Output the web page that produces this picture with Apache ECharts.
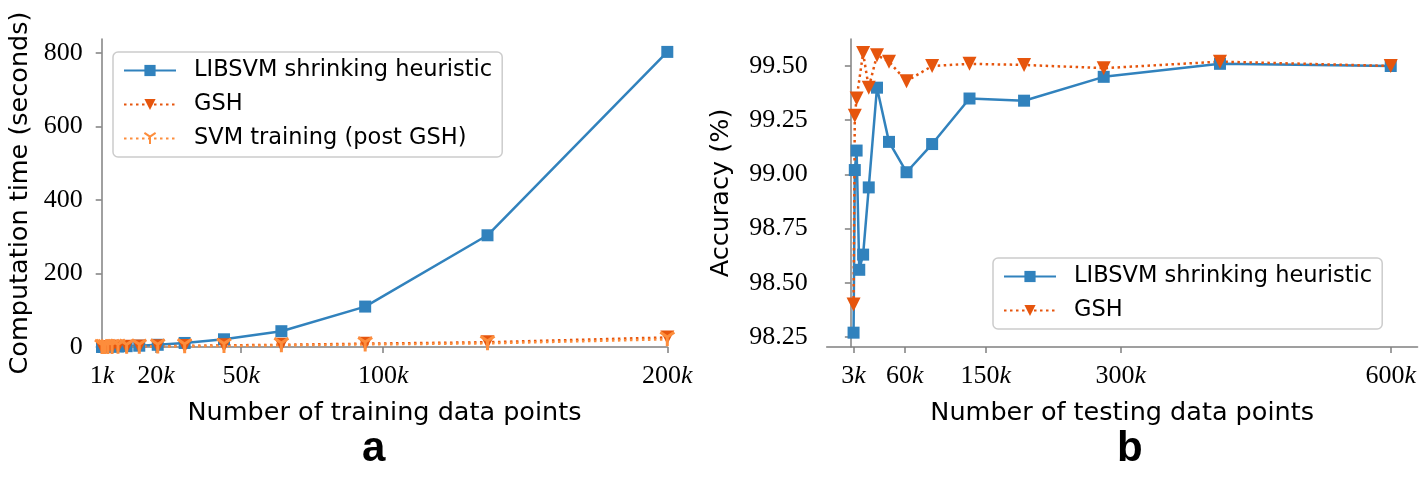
<!DOCTYPE html>
<html><head><meta charset="utf-8">
<script src="https://cdn.jsdelivr.net/npm/echarts@6/dist/echarts.min.js"></script>
<style>html,body{margin:0;padding:0;background:#fff}#c{width:1419px;height:478px}</style>
</head><body><div id="c"></div>
<script>
// ---- data ----
const trainN = [1000, 1459, 2131, 3111, 4541, 6629, 9677, 14126, 20621, 30103, 43944, 64150, 93646, 136705, 200000];
const trainLIBSVM = [0.1, 0.2, 0.3, 0.5, 0.8, 1.3, 2.2, 3.5, 6, 11, 21, 43, 110, 304, 803];
const trainGSH = [0.1, 0.1, 0.2, 0.3, 0.4, 0.6, 0.9, 1.3, 2, 3, 4.5, 6, 9, 13, 26];
const trainSVM = [0.05, 0.1, 0.1, 0.2, 0.3, 0.4, 0.6, 0.9, 1.4, 2, 3, 4.5, 7, 10, 21];
const testN = [3000, 4379, 6393, 9333, 13624, 19889, 29035, 42386, 61876, 90328, 131863, 192496, 281009, 410222, 600000];
const testLIBSVM = [98.27, 99.02, 99.11, 98.56, 98.63, 98.94, 99.40, 99.15, 99.01, 99.14, 99.35, 99.34, 99.45, 99.51, 99.50];
const testN_GSH = [3000, 4379, 6393, 13624, 19889, 29035, 42386, 61876, 90328, 131863, 192496, 281009, 410222, 600000];
const testGSH = [98.40, 99.27, 99.35, 99.56, 99.40, 99.55, 99.52, 99.43, 99.50, 99.51, 99.505, 99.49, 99.52, 99.50];
const trainTicks = [1000, 20000, 50000, 100000, 200000];
const testTicks = [3000, 60000, 150000, 300000, 600000];
const accTicks = [98.25, 98.50, 98.75, 99.00, 99.25, 99.50];
const timeTicks = [0, 200, 400, 600, 800];

const BLUE = '#3182bd', DORANGE = '#e6550d', LORANGE = '#fd8d3c', AX = '#808080';
const zip = (a, b) => a.map((v, i) => [v, b[i]]);
const SERIF = 'Liberation Serif', SANS = 'DejaVu Sans';

const kFmt = v => '{n|' + (v / 1000) + '}{k|k}';
const kRich = { n: { fontFamily: SERIF, fontSize: 26, color: '#000' }, k: { fontFamily: SERIF, fontSize: 26, fontStyle: 'italic', color: '#000' } };
const axisLine = { show: true, lineStyle: { color: AX, width: 1.5 } };
const axisTick = (vals) => ({ show: true, length: 6, lineStyle: { color: AX, width: 1.5 }, customValues: vals });
const nameStyle = { fontFamily: SANS, fontSize: 25.5, color: '#000' };
const triDown = 'path://M10,10 L10,20 M10,10 L1.34,5 M10,10 L18.66,5';
const DOT = [2.5, 3.5];

const option = {
  animation: false,
  backgroundColor: '#fff',
  grid: [
    { left: 101.7, top: 39, width: 565.6, height: 308 },
    { left: 826.7, top: 39, width: 591.3, height: 308 }
  ],
  xAxis: [
    { type: 'value', gridIndex: 0, min: 900, max: 200000, splitLine: { show: false }, axisLine, axisTick: axisTick(trainTicks),
      axisLabel: { customValues: trainTicks, formatter: kFmt, rich: kRich, margin: 16 },
      name: 'Number of training data points', nameLocation: 'middle', nameGap: 53, nameTextStyle: nameStyle },
    { type: 'value', gridIndex: 1, min: -26850, max: 629850, splitLine: { show: false }, axisLine, axisTick: axisTick(testTicks),
      axisLabel: { customValues: testTicks, formatter: kFmt, rich: kRich, margin: 16 },
      name: 'Number of testing data points', nameLocation: 'middle', nameGap: 53, nameTextStyle: nameStyle }
  ],
  yAxis: [
    { type: 'value', gridIndex: 0, min: 0, max: 838.1, splitLine: { show: false }, axisLine, axisTick: axisTick(timeTicks),
      axisLabel: { customValues: timeTicks, fontFamily: SERIF, fontSize: 26, color: '#000', margin: 19 },
      name: 'Computation time (seconds)', nameLocation: 'middle', nameGap: 68, nameTextStyle: nameStyle },
    { type: 'value', gridIndex: 1, min: 98.2039, max: 99.6245, splitLine: { show: false }, axisLine, axisTick: axisTick(accTicks),
      axisLabel: { customValues: accTicks, formatter: v => v.toFixed(2), fontFamily: SERIF, fontSize: 26, color: '#000', margin: 19 },
      name: 'Accuracy (%)', nameLocation: 'middle', nameGap: 92, nameTextStyle: nameStyle }
  ],
  legend: [
    { left: 113, top: 52, orient: 'vertical', itemWidth: 52, itemHeight: 14, itemGap: 11,
      padding: [7, 10, 7, 10], borderColor: '#cccccc', borderWidth: 1.5, borderRadius: 5, backgroundColor: 'rgba(255,255,255,0.85)',
      textStyle: { fontFamily: SANS, fontSize: 22.5, color: '#000', padding: [0, 0, 0, 13] },
      data: ['LIBSVM shrinking heuristic', 'GSH', 'SVM training (post GSH)'] },
    { left: 993, top: 258, orient: 'vertical', itemWidth: 52, itemHeight: 14, itemGap: 11,
      padding: [7, 10, 7, 10], borderColor: '#cccccc', borderWidth: 1.5, borderRadius: 5, backgroundColor: 'rgba(255,255,255,0.85)',
      textStyle: { fontFamily: SANS, fontSize: 22.5, color: '#000', padding: [0, 0, 0, 13] },
      data: ['LIBSVM shrinking heuristic', 'GSH'] }
  ],
  series: [
    { name: 'LIBSVM shrinking heuristic', type: 'line', xAxisIndex: 0, yAxisIndex: 0, data: zip(trainN, trainLIBSVM),
      symbol: 'rect', symbolSize: 12, clip: false, color: BLUE, lineStyle: { color: BLUE, width: 2.5 }, itemStyle: { color: BLUE } },
    { name: 'GSH', type: 'line', xAxisIndex: 0, yAxisIndex: 0, data: zip(trainN, trainGSH),
      symbol: 'triangle', symbolRotate: 180, symbolSize: 14, clip: false, color: DORANGE, lineStyle: { color: DORANGE, width: 2.5, type: DOT }, itemStyle: { color: DORANGE } },
    { name: 'SVM training (post GSH)', type: 'line', xAxisIndex: 0, yAxisIndex: 0, data: zip(trainN, trainSVM),
      symbol: triDown, symbolSize: 14, clip: false, color: LORANGE, lineStyle: { color: LORANGE, width: 2.5, type: DOT },
      itemStyle: { color: LORANGE, borderColor: LORANGE, borderWidth: 3 } },
    { name: 'LIBSVM shrinking heuristic', type: 'line', xAxisIndex: 1, yAxisIndex: 1, data: zip(testN, testLIBSVM),
      symbol: 'rect', symbolSize: 12, clip: false, color: BLUE, lineStyle: { color: BLUE, width: 2.5 }, itemStyle: { color: BLUE } },
    { name: 'GSH', type: 'line', xAxisIndex: 1, yAxisIndex: 1, data: zip(testN_GSH, testGSH),
      symbol: 'triangle', symbolRotate: 180, symbolSize: 14, clip: false, color: DORANGE, lineStyle: { color: DORANGE, width: 2.5, type: DOT }, itemStyle: { color: DORANGE } }
  ],
  graphic: [
    { type: 'text', left: 362, top: 428, style: { text: 'a', fontFamily: 'Liberation Sans', fontWeight: 'bold', fontSize: 42, fill: '#000' } },
    { type: 'text', left: 1117, top: 428, style: { text: 'b', fontFamily: 'Liberation Sans', fontWeight: 'bold', fontSize: 42, fill: '#000' } }
  ]
};
const chart = echarts.init(document.getElementById('c'), null, { renderer: 'canvas' });
chart.setOption(option);
</script></body></html>
